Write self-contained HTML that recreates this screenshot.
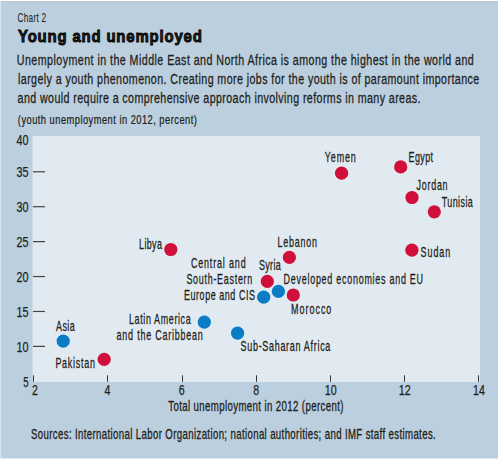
<!DOCTYPE html>
<html><head><meta charset="utf-8"><style>
html,body{margin:0;padding:0;background:#fff;width:500px;height:460px;overflow:hidden}
svg{display:block}
text{font-family:"Liberation Sans",sans-serif;fill:#231f20}
</style></head><body>
<svg width="500" height="460" viewBox="0 0 500 460">
<rect x="0" y="0" width="500" height="460" fill="#fff"/>
<rect x="0" y="1" width="1" height="458" fill="#dbe6ee"/>
<rect x="1" y="1" width="497" height="457.5" fill="#bbcfde"/>
<rect x="1" y="1" width="497" height="1" fill="#b5c6d2"/>
<rect x="32.5" y="136" width="447.5" height="246" fill="#e2eaf1"/>
<line x1="33" y1="346.38" x2="45" y2="346.38" stroke="#444" stroke-width="1.2"/>
<line x1="33" y1="311.46" x2="45" y2="311.46" stroke="#444" stroke-width="1.2"/>
<line x1="33" y1="276.54" x2="45" y2="276.54" stroke="#444" stroke-width="1.2"/>
<line x1="33" y1="241.62" x2="45" y2="241.62" stroke="#444" stroke-width="1.2"/>
<line x1="33" y1="206.70" x2="45" y2="206.70" stroke="#444" stroke-width="1.2"/>
<line x1="33" y1="171.78" x2="45" y2="171.78" stroke="#444" stroke-width="1.2"/>
<line x1="33.5" y1="375.3" x2="33.5" y2="381.8" stroke="#333" stroke-width="1"/>
<line x1="107.5" y1="375.3" x2="107.5" y2="381.8" stroke="#333" stroke-width="1"/>
<line x1="182.5" y1="375.3" x2="182.5" y2="381.8" stroke="#333" stroke-width="1"/>
<line x1="256.5" y1="375.3" x2="256.5" y2="381.8" stroke="#333" stroke-width="1"/>
<line x1="330.5" y1="375.3" x2="330.5" y2="381.8" stroke="#333" stroke-width="1"/>
<line x1="404.5" y1="375.3" x2="404.5" y2="381.8" stroke="#333" stroke-width="1"/>
<line x1="478.5" y1="375.3" x2="478.5" y2="381.8" stroke="#333" stroke-width="1"/>
<text x="28.6" y="145.2" text-anchor="end" font-size="14" stroke="#231f20" stroke-width="0.25" textLength="12.0" lengthAdjust="spacingAndGlyphs">40</text>
<text x="28.6" y="177.4" text-anchor="end" font-size="14" stroke="#231f20" stroke-width="0.25" textLength="12.0" lengthAdjust="spacingAndGlyphs">35</text>
<text x="28.6" y="212.3" text-anchor="end" font-size="14" stroke="#231f20" stroke-width="0.25" textLength="12.0" lengthAdjust="spacingAndGlyphs">30</text>
<text x="28.6" y="247.2" text-anchor="end" font-size="14" stroke="#231f20" stroke-width="0.25" textLength="12.0" lengthAdjust="spacingAndGlyphs">25</text>
<text x="28.6" y="282.1" text-anchor="end" font-size="14" stroke="#231f20" stroke-width="0.25" textLength="12.0" lengthAdjust="spacingAndGlyphs">20</text>
<text x="28.6" y="317.1" text-anchor="end" font-size="14" stroke="#231f20" stroke-width="0.25" textLength="12.0" lengthAdjust="spacingAndGlyphs">15</text>
<text x="28.6" y="352.0" text-anchor="end" font-size="14" stroke="#231f20" stroke-width="0.25" textLength="12.0" lengthAdjust="spacingAndGlyphs">10</text>
<text x="28.6" y="386.9" text-anchor="end" font-size="14" stroke="#231f20" stroke-width="0.25" textLength="5.3" lengthAdjust="spacingAndGlyphs">5</text>
<text x="35.0" y="395.0" text-anchor="middle" font-size="14" stroke="#231f20" stroke-width="0.25" textLength="5.9" lengthAdjust="spacingAndGlyphs">2</text>
<text x="107.5" y="395.0" text-anchor="middle" font-size="14" stroke="#231f20" stroke-width="0.25" textLength="5.9" lengthAdjust="spacingAndGlyphs">4</text>
<text x="181.8" y="395.0" text-anchor="middle" font-size="14" stroke="#231f20" stroke-width="0.25" textLength="5.9" lengthAdjust="spacingAndGlyphs">6</text>
<text x="256.1" y="395.0" text-anchor="middle" font-size="14" stroke="#231f20" stroke-width="0.25" textLength="5.9" lengthAdjust="spacingAndGlyphs">8</text>
<text x="330.8" y="395.0" text-anchor="middle" font-size="14" stroke="#231f20" stroke-width="0.25" textLength="11.9" lengthAdjust="spacingAndGlyphs">10</text>
<text x="404.8" y="395.0" text-anchor="middle" font-size="14" stroke="#231f20" stroke-width="0.25" textLength="11.9" lengthAdjust="spacingAndGlyphs">12</text>
<text x="478.9" y="395.0" text-anchor="middle" font-size="14" stroke="#231f20" stroke-width="0.25" textLength="11.9" lengthAdjust="spacingAndGlyphs">14</text>
<circle cx="341.6" cy="173.2" r="6.6" fill="#d0103a"/>
<circle cx="400.7" cy="166.9" r="6.6" fill="#d0103a"/>
<circle cx="412.0" cy="197.5" r="6.6" fill="#d0103a"/>
<circle cx="434.3" cy="211.8" r="6.6" fill="#d0103a"/>
<circle cx="411.9" cy="250.2" r="6.6" fill="#d0103a"/>
<circle cx="170.8" cy="249.5" r="6.6" fill="#d0103a"/>
<circle cx="289.4" cy="257.4" r="6.6" fill="#d0103a"/>
<circle cx="267.3" cy="281.4" r="6.6" fill="#d0103a"/>
<circle cx="293.3" cy="295.0" r="6.6" fill="#d0103a"/>
<circle cx="104.2" cy="359.4" r="6.6" fill="#d0103a"/>
<circle cx="278.4" cy="291.4" r="6.6" fill="#0a7cc6"/>
<circle cx="263.7" cy="297.2" r="6.6" fill="#0a7cc6"/>
<circle cx="63.2" cy="341.1" r="6.6" fill="#0a7cc6"/>
<circle cx="204.3" cy="322.2" r="6.6" fill="#0a7cc6"/>
<circle cx="237.6" cy="333.2" r="6.6" fill="#0a7cc6"/>
<text transform="translate(17.6,22.0) scale(0.66,1)" letter-spacing="0.353" font-size="12.5" font-weight="normal" fill="#333" stroke="#333" stroke-width="0.1">Chart 2</text>
<text transform="translate(18.0,41.6) scale(0.86,1)" letter-spacing="0.943" font-size="17.4" font-weight="bold" fill="#000" stroke="#000" stroke-width="0.9">Young and unemployed</text>
<text transform="translate(16.8,64.5) scale(0.7,1)" letter-spacing="0.626" font-size="15.3" font-weight="normal" fill="#231f20" stroke="#231f20" stroke-width="0.3">Unemployment in the Middle East and North Africa is among the highest in the world and</text>
<text transform="translate(18.0,83.6) scale(0.7,1)" letter-spacing="0.581" font-size="15.3" font-weight="normal" fill="#231f20" stroke="#231f20" stroke-width="0.3">largely a youth phenomenon. Creating more jobs for the youth is of paramount importance</text>
<text transform="translate(17.6,102.7) scale(0.7,1)" letter-spacing="0.559" font-size="15.3" font-weight="normal" fill="#231f20" stroke="#231f20" stroke-width="0.3">and would require a comprehensive approach involving reforms in many areas.</text>
<text transform="translate(17.8,123.6) scale(0.7,1)" letter-spacing="0.683" font-size="13.3" font-weight="normal" fill="#231f20" stroke="#231f20" stroke-width="0.25">(youth unemployment in 2012, percent)</text>
<text transform="translate(324.8,161.8) scale(0.65,1)" letter-spacing="1.308" font-size="13.8" font-weight="normal" fill="#231f20" stroke="#231f20" stroke-width="0.28">Yemen</text>
<text transform="translate(408.5,162.1) scale(0.65,1)" letter-spacing="0.654" font-size="13.8" font-weight="normal" fill="#231f20" stroke="#231f20" stroke-width="0.28">Egypt</text>
<text transform="translate(416.6,189.6) scale(0.65,1)" letter-spacing="1.108" font-size="13.8" font-weight="normal" fill="#231f20" stroke="#231f20" stroke-width="0.28">Jordan</text>
<text transform="translate(441.8,206.6) scale(0.65,1)" letter-spacing="0.615" font-size="13.8" font-weight="normal" fill="#231f20" stroke="#231f20" stroke-width="0.28">Tunisia</text>
<text transform="translate(420.6,257.2) scale(0.65,1)" letter-spacing="1.423" font-size="13.8" font-weight="normal" fill="#231f20" stroke="#231f20" stroke-width="0.28">Sudan</text>
<text transform="translate(139.1,248.9) scale(0.65,1)" letter-spacing="0.538" font-size="13.8" font-weight="normal" fill="#231f20" stroke="#231f20" stroke-width="0.28">Libya</text>
<text transform="translate(277.4,247.2) scale(0.65,1)" letter-spacing="1.180" font-size="13.8" font-weight="normal" fill="#231f20" stroke="#231f20" stroke-width="0.28">Lebanon</text>
<text transform="translate(258.9,269.6) scale(0.65,1)" letter-spacing="0.538" font-size="13.8" font-weight="normal" fill="#231f20" stroke="#231f20" stroke-width="0.28">Syria</text>
<text transform="translate(190.9,267.6) scale(0.65,1)" letter-spacing="1.292" font-size="13.8" font-weight="normal" fill="#231f20" stroke="#231f20" stroke-width="0.28">Central and</text>
<text transform="translate(186.4,283.6) scale(0.65,1)" letter-spacing="1.103" font-size="13.8" font-weight="normal" fill="#231f20" stroke="#231f20" stroke-width="0.28">South-Eastern</text>
<text transform="translate(184.0,299.9) scale(0.65,1)" letter-spacing="0.852" font-size="13.8" font-weight="normal" fill="#231f20" stroke="#231f20" stroke-width="0.28">Europe and CIS</text>
<text transform="translate(283.6,284.4) scale(0.65,1)" letter-spacing="1.132" font-size="13.8" font-weight="normal" fill="#231f20" stroke="#231f20" stroke-width="0.28">Developed economies and EU</text>
<text transform="translate(291.1,313.6) scale(0.65,1)" letter-spacing="1.512" font-size="13.8" font-weight="normal" fill="#231f20" stroke="#231f20" stroke-width="0.28">Morocco</text>
<text transform="translate(56.0,330.8) scale(0.65,1)" letter-spacing="0.615" font-size="13.8" font-weight="normal" fill="#231f20" stroke="#231f20" stroke-width="0.28">Asia</text>
<text transform="translate(55.4,368.2) scale(0.65,1)" letter-spacing="1.143" font-size="13.8" font-weight="normal" fill="#231f20" stroke="#231f20" stroke-width="0.28">Pakistan</text>
<text transform="translate(129.0,323.6) scale(0.65,1)" letter-spacing="0.949" font-size="13.8" font-weight="normal" fill="#231f20" stroke="#231f20" stroke-width="0.28">Latin America</text>
<text transform="translate(116.6,339.6) scale(0.65,1)" letter-spacing="1.192" font-size="13.8" font-weight="normal" fill="#231f20" stroke="#231f20" stroke-width="0.28">and the Caribbean</text>
<text transform="translate(240.6,350.7) scale(0.65,1)" letter-spacing="1.086" font-size="13.8" font-weight="normal" fill="#231f20" stroke="#231f20" stroke-width="0.28">Sub-Saharan Africa</text>
<text transform="translate(168.2,411.0) scale(0.7,1)" letter-spacing="0.539" font-size="13.8" font-weight="normal" fill="#231f20" stroke="#231f20" stroke-width="0.3">Total unemployment in 2012 (percent)</text>
<text transform="translate(31.0,439.0) scale(0.7,1)" letter-spacing="0.509" font-size="13.8" font-weight="normal" fill="#231f20" stroke="#231f20" stroke-width="0.3">Sources: International Labor Organization; national authorities; and IMF staff estimates.</text>
</svg>
</body></html>
